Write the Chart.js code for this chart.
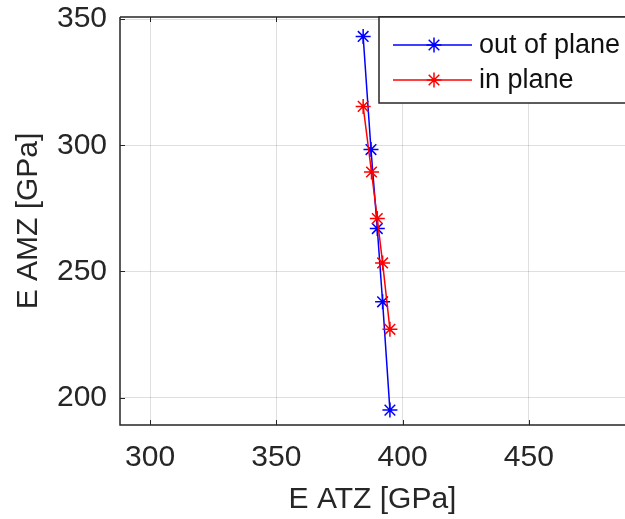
<!DOCTYPE html>
<html>
<head>
<meta charset="utf-8">
<script src="https://cdn.jsdelivr.net/npm/chart.js@4.4.1/dist/chart.umd.min.js"></script>
<style>
  body { margin: 0; background: #fff; overflow: hidden; }
  #wrap { width: 625px; height: 519px; overflow: hidden; }
</style>
</head>
<body>
<div id="wrap"><canvas id="modulusChart" width="634" height="519"></canvas></div>
<script>
// data
const outOfPlaneX = [384.4, 387.5, 390.0, 392.1, 395.0];
const outOfPlaneY = [343.1, 298.3, 267.0, 238.0, 195.1];
const inPlaneX = [384.4, 387.7, 390.0, 392.1, 395.0];
const inPlaneY = [315.4, 289.4, 271.0, 253.4, 227.1];
const xTicks = [300, 350, 400, 450];
const yTicks = [200, 250, 300, 350];
const seriesNames = ['out of plane', 'in plane'];
const seriesColors = ['#0000ff', '#ff0000'];

const axisColor = '#262626';
const fontFam = '"Liberation Sans", Arial, sans-serif';

function toPoints(xs, ys) {
    return xs.map((x, i) => ({ x: x, y: ys[i] }));
}

// frame, inward ticks and legend box (matlab look)
const matlabFrame = {
    id: 'matlabFrame',
    afterDraw(chart) {
        const ctx = chart.ctx;
        const a = chart.chartArea;
        const xs = chart.scales.x;
        const ys = chart.scales.y;
        ctx.save();
        ctx.strokeStyle = axisColor;
        ctx.lineWidth = 1.5;
        ctx.beginPath();
        ctx.moveTo(a.left, a.top);
        ctx.lineTo(a.right + 5, a.top);
        ctx.moveTo(a.left, a.top);
        ctx.lineTo(a.left, a.bottom);
        ctx.lineTo(a.right + 5, a.bottom);
        ctx.stroke();
        // tick marks
        ctx.lineWidth = 1;
        ctx.beginPath();
        xTicks.forEach(v => {
            const px = Math.round(xs.getPixelForValue(v)) + 0.5;
            ctx.moveTo(px, a.bottom); ctx.lineTo(px, a.bottom - 5);
            ctx.moveTo(px, a.top); ctx.lineTo(px, a.top + 5);
        });
        yTicks.forEach(v => {
            const py = Math.round(ys.getPixelForValue(v)) + 0.5;
            ctx.moveTo(a.left, py); ctx.lineTo(a.left + 5, py);
        });
        ctx.stroke();

        // legend
        const lx = 379, ly = a.top, lh = 86;
        ctx.fillStyle = '#fff';
        ctx.fillRect(lx, ly, 270, lh);
        ctx.strokeStyle = axisColor;
        ctx.lineWidth = 1.5;
        ctx.strokeRect(lx, ly, 270, lh);
        ctx.font = '27px ' + fontFam;
        ctx.textBaseline = 'middle';
        seriesNames.forEach((name, i) => {
            const rowY = ly + 28 + i * 35;
            ctx.strokeStyle = seriesColors[i];
            ctx.lineWidth = 1.5;
            ctx.beginPath();
            ctx.moveTo(393, rowY); ctx.lineTo(472, rowY);
            ctx.stroke();
            Chart.helpers.drawPoint(ctx, { pointStyle: 'star', radius: 7.5, borderWidth: 1.5 }, 434, rowY);
            ctx.fillStyle = '#111';
            ctx.fillText(name, 479, rowY + 1);
        });
        ctx.restore();
    }
};

const ctx = document.getElementById('modulusChart').getContext('2d');
new Chart(ctx, {
    type: 'scatter',
    data: {
        datasets: [
            {
                label: seriesNames[0],
                data: toPoints(outOfPlaneX, outOfPlaneY),
                showLine: true,
                borderColor: seriesColors[0],
                backgroundColor: seriesColors[0],
                borderWidth: 1.5,
                pointStyle: 'star',
                pointRadius: 7.5,
                pointBorderWidth: 1.5,
                order: 1
            },
            {
                label: seriesNames[1],
                data: toPoints(inPlaneX, inPlaneY),
                showLine: true,
                borderColor: seriesColors[1],
                backgroundColor: seriesColors[1],
                borderWidth: 1.5,
                pointStyle: 'star',
                pointRadius: 7.5,
                pointBorderWidth: 1.5,
                order: 0
            }
        ]
    },
    options: {
        responsive: false,
        animation: false,
        layout: { padding: 0 },
        plugins: {
            legend: { display: false },
            tooltip: { enabled: false }
        },
        scales: {
            x: {
                type: 'linear',
                min: 288.1,
                max: 488.1,
                afterBuildTicks: s => { s.ticks = xTicks.map(v => ({ value: v })); },
                afterFit: s => { s.height = 94; s.paddingLeft = 0; s.paddingRight = 0; },
                grid: { color: 'rgba(38,38,38,0.15)', drawTicks: false },
                border: { display: false },
                ticks: {
                    color: axisColor,
                    padding: 15,
                    maxRotation: 0,
                    font: { family: fontFam, size: 30 }
                },
                title: {
                    display: true,
                    text: 'E ATZ [GPa]',
                    color: axisColor,
                    padding: { top: 0, bottom: 1 },
                    font: { family: fontFam, size: 30 }
                }
            },
            y: {
                type: 'linear',
                min: 189.2,
                max: 350.8,
                afterBuildTicks: s => { s.ticks = yTicks.map(v => ({ value: v })); },
                afterFit: s => { s.width = 120; s.paddingTop = 17; s.paddingBottom = 0; },
                grid: { color: 'rgba(38,38,38,0.15)', drawTicks: false },
                border: { display: false },
                ticks: {
                    color: axisColor,
                    padding: 13,
                    font: { family: fontFam, size: 30 }
                },
                title: {
                    display: true,
                    text: 'E AMZ [GPa]',
                    color: axisColor,
                    padding: { top: 11, bottom: 0 },
                    font: { family: fontFam, size: 30 }
                }
            }
        }
    },
    plugins: [matlabFrame]
});
</script>
</body>
</html>
